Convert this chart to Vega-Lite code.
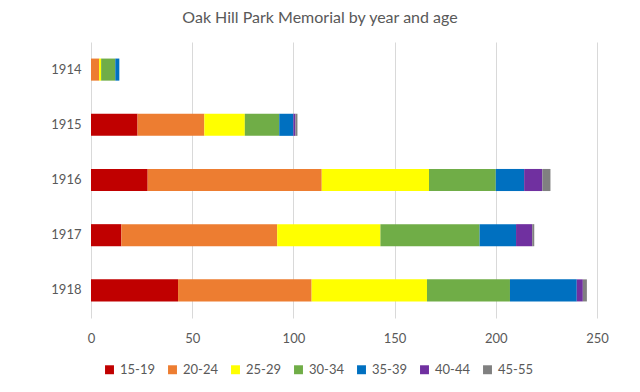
{
  "$schema": "https://vega.github.io/schema/vega-lite/v6.json",
  "width": 506,
  "height": 276,
  "autosize": {"type": "none"},
  "padding": {"left": 91, "top": 42, "right": 43, "bottom": 74},
  "background": "white",
  "title": {"text": "Oak Hill Park Memorial by year and age", "fontSize": 16, "font": "Lato", "fontWeight": "normal", "color": "#595959", "anchor": "middle", "dx": -24, "offset": 16},
  "data": {"values": [
    {"year": "1914", "age": "15-19", "n": 0},
    {"year": "1914", "age": "20-24", "n": 4},
    {"year": "1914", "age": "25-29", "n": 1},
    {"year": "1914", "age": "30-34", "n": 7},
    {"year": "1914", "age": "35-39", "n": 2},
    {"year": "1915", "age": "15-19", "n": 23},
    {"year": "1915", "age": "20-24", "n": 33},
    {"year": "1915", "age": "25-29", "n": 20},
    {"year": "1915", "age": "30-34", "n": 17},
    {"year": "1915", "age": "35-39", "n": 7},
    {"year": "1915", "age": "40-44", "n": 1},
    {"year": "1915", "age": "45-55", "n": 1},
    {"year": "1916", "age": "15-19", "n": 28},
    {"year": "1916", "age": "20-24", "n": 86},
    {"year": "1916", "age": "25-29", "n": 53},
    {"year": "1916", "age": "30-34", "n": 33},
    {"year": "1916", "age": "35-39", "n": 14},
    {"year": "1916", "age": "40-44", "n": 9},
    {"year": "1916", "age": "45-55", "n": 4},
    {"year": "1917", "age": "15-19", "n": 15},
    {"year": "1917", "age": "20-24", "n": 77},
    {"year": "1917", "age": "25-29", "n": 51},
    {"year": "1917", "age": "30-34", "n": 49},
    {"year": "1917", "age": "35-39", "n": 18},
    {"year": "1917", "age": "40-44", "n": 8},
    {"year": "1917", "age": "45-55", "n": 1},
    {"year": "1918", "age": "15-19", "n": 43},
    {"year": "1918", "age": "20-24", "n": 66},
    {"year": "1918", "age": "25-29", "n": 57},
    {"year": "1918", "age": "30-34", "n": 41},
    {"year": "1918", "age": "35-39", "n": 33},
    {"year": "1918", "age": "40-44", "n": 3},
    {"year": "1918", "age": "45-55", "n": 2}
  ]},
  "mark": {"type": "bar"},
  "encoding": {
    "y": {"field": "year", "type": "nominal", "sort": "ascending",
      "scale": {"paddingInner": 0.6, "paddingOuter": 0.3},
      "axis": {"title": null, "domain": false, "ticks": false, "labelFont": "Lato", "labelFontSize": 13, "labelColor": "#595959", "labelPadding": 10}},
    "x": {"field": "n", "type": "quantitative", "aggregate": "sum", "stack": "zero",
      "scale": {"domain": [0, 250], "nice": false},
      "axis": {"title": null, "values": [0, 50, 100, 150, 200, 250], "domain": false, "ticks": false, "grid": true, "gridColor": "#d9d9d9", "labelFlush": false, "labelFont": "Lato", "labelFontSize": 13, "labelColor": "#595959", "labelPadding": 14}},
    "color": {"field": "age", "type": "nominal",
      "scale": {"domain": ["15-19", "20-24", "25-29", "30-34", "35-39", "40-44", "45-55"],
                "range": ["#C00000", "#ED7D31", "#FFFF00", "#70AD47", "#0070C0", "#7030A0", "#808080"]},
      "legend": {"title": null, "orient": "none", "legendX": 12, "legendY": 321, "direction": "horizontal", "symbolType": "square", "symbolSize": 80, "symbolStrokeWidth": 0, "labelFont": "Lato", "labelFontSize": 13, "labelColor": "#595959", "columnPadding": 11}},
    "order": {"field": "age", "type": "ordinal"}
  },
  "config": {"view": {"stroke": null}}
}
